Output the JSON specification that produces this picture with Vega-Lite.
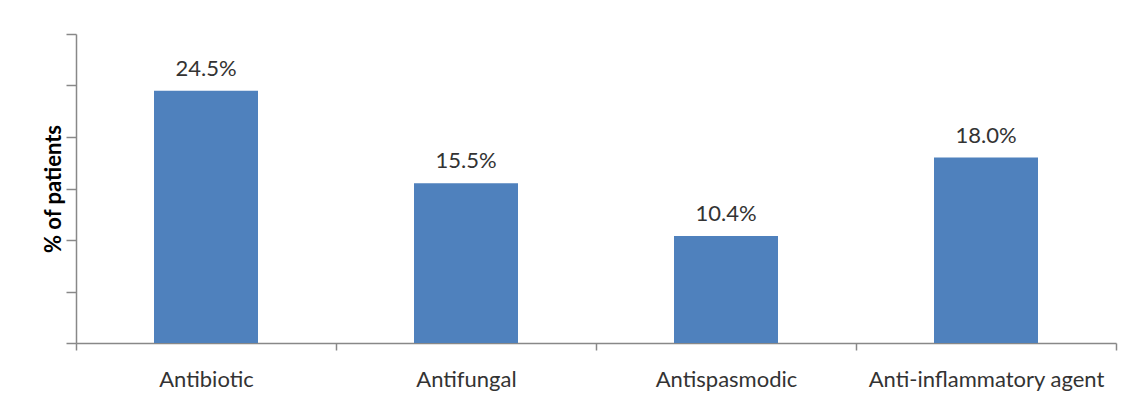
{
  "$schema": "https://vega.github.io/schema/vega-lite/v6.json",
  "autosize": "none",
  "width": 1040,
  "height": 309,
  "padding": {"left": 76, "top": 34, "right": 16, "bottom": 76},
  "background": "white",
  "config": {
    "view": {"stroke": null},
    "font": "Lato"
  },
  "data": {
    "values": [
      {"category": "Antibiotic", "value": 24.5, "label": "24.5%"},
      {"category": "Antifungal", "value": 15.5, "label": "15.5%"},
      {"category": "Antispasmodic", "value": 10.4, "label": "10.4%"},
      {"category": "Anti-inflammatory agent", "value": 18.0, "label": "18.0%"}
    ]
  },
  "encoding": {
    "x": {
      "field": "category",
      "type": "nominal",
      "sort": null,
      "scale": {"paddingInner": 0, "paddingOuter": 0},
      "axis": {
        "title": null,
        "labelAngle": 0,
        "labelFontSize": 22,
        "labelColor": "#333333",
        "labelPadding": 19,
        "labelLimit": 0,
        "tickBand": "extent",
        "tickSize": 7,
        "tickColor": "#888888",
        "domainColor": "#888888",
        "domainWidth": 1.5,
        "tickWidth": 1.5
      }
    },
    "y": {
      "field": "value",
      "type": "quantitative",
      "scale": {"domain": [0, 30], "nice": false},
      "axis": {
        "title": "% of patients",
        "titleFontSize": 22,
        "titleFontWeight": "bold",
        "titleColor": "#000000",
        "titlePadding": 0,
        "values": [0, 5, 10, 15, 20, 25, 30],
        "labels": false,
        "grid": false,
        "tickSize": 10,
        "tickColor": "#888888",
        "domainColor": "#888888",
        "domainWidth": 1.5,
        "tickWidth": 1.5
      }
    }
  },
  "layer": [
    {
      "mark": {"type": "bar", "color": "#4F81BD", "width": {"band": 0.4}}
    },
    {
      "mark": {"type": "text", "dy": -10, "fontSize": 22, "color": "#333333", "baseline": "bottom"},
      "encoding": {"text": {"field": "label"}}
    }
  ]
}
